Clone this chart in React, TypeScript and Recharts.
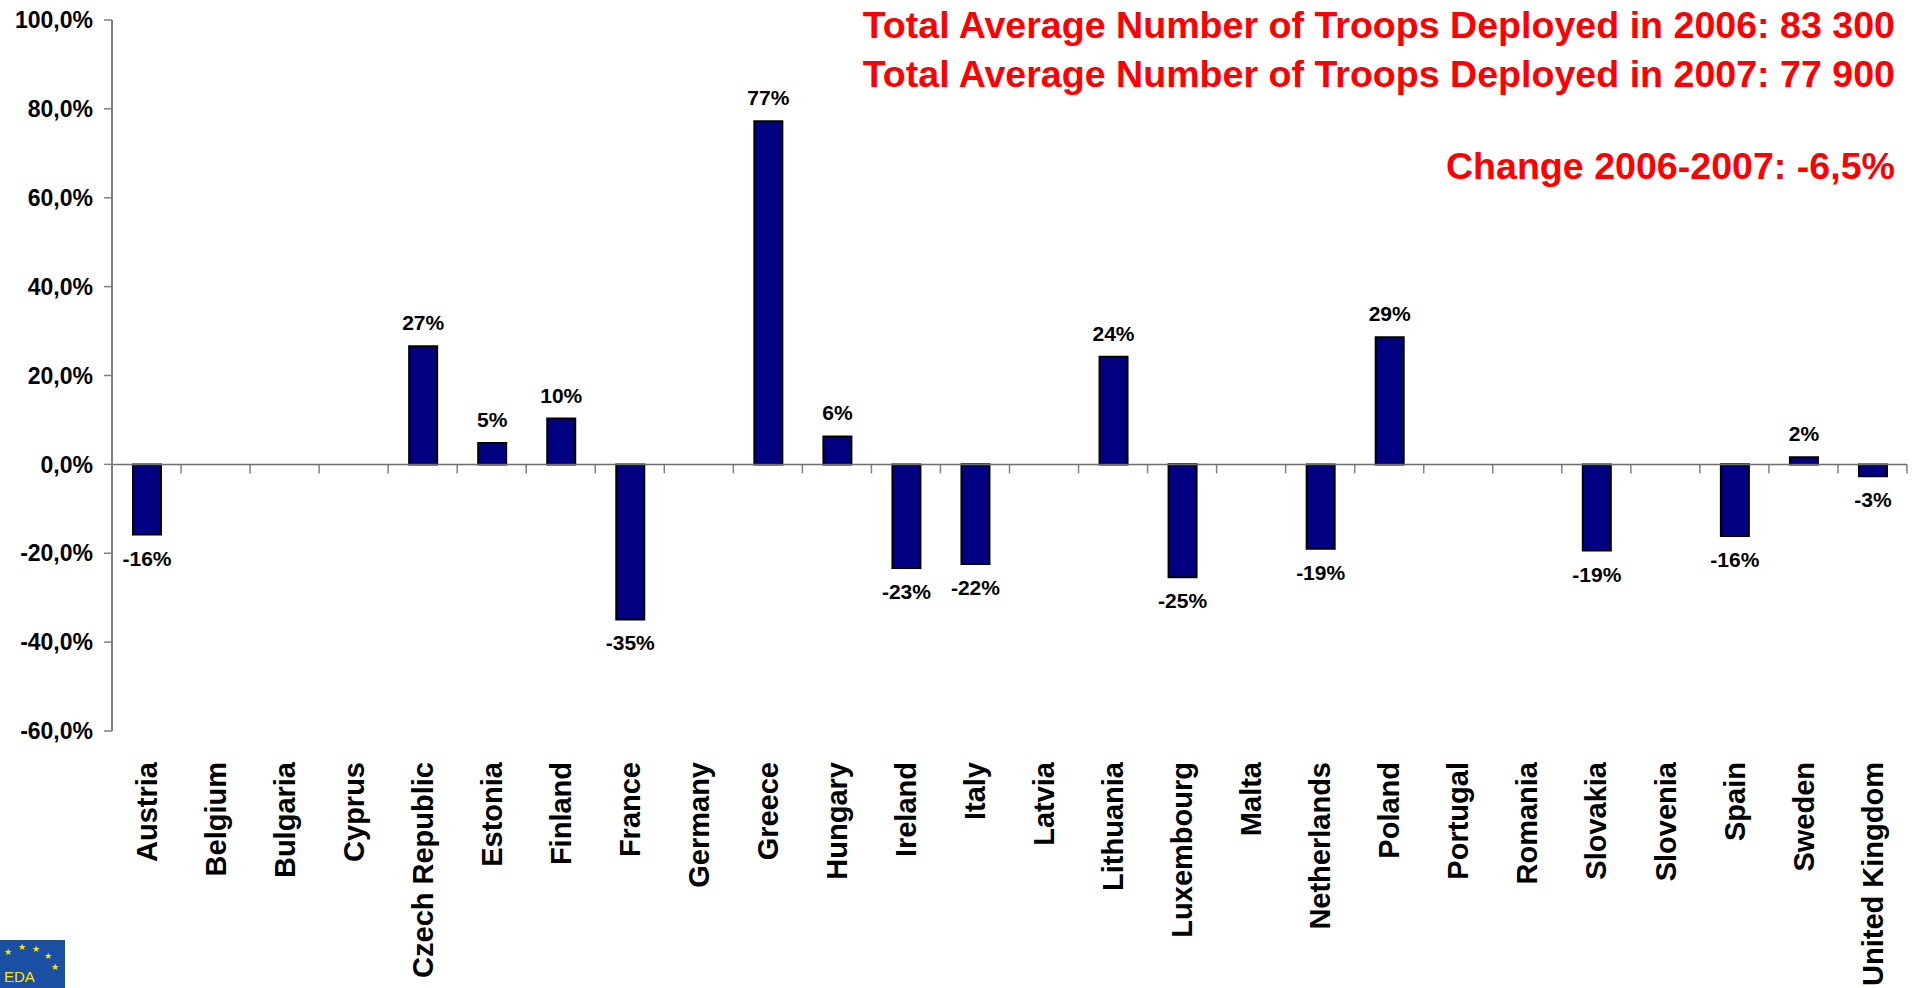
import { Bar, BarChart, LabelList, ReferenceLine, XAxis, YAxis } from "recharts";

const countries = [
  "Austria",
  "Belgium",
  "Bulgaria",
  "Cyprus",
  "Czech Republic",
  "Estonia",
  "Finland",
  "France",
  "Germany",
  "Greece",
  "Hungary",
  "Ireland",
  "Italy",
  "Latvia",
  "Lithuania",
  "Luxembourg",
  "Malta",
  "Netherlands",
  "Poland",
  "Portugal",
  "Romania",
  "Slovakia",
  "Slovenia",
  "Spain",
  "Sweden",
  "United Kingdom",
];

// change 2006-2007 in %, null = no bar
const changePct = [
  -15.8, null, null, null, 26.6, 4.8, 10.3, -34.9, null, 77.2, 6.3, -23.3, -22.4,
  null, 24.2, -25.4, null, -19.0, 28.6, null, null, -19.4, null, -16.1, 1.6, -2.7,
];

const yTicks = [-60, -40, -20, 0, 20, 40, 60, 80, 100];

const titleLines = [
  "Total Average Number of Troops Deployed in 2006: 83 300",
  "Total Average Number of Troops Deployed in 2007: 77 900",
  "Change 2006-2007: -6,5%",
];

const FONT = "'Liberation Sans', Arial, sans-serif";
const AXIS_GRAY = "#808080";

const data = countries.map((name, i) => ({ name, change: changePct[i], zero: 0 }));

const pctTick = (v: number) => `${v.toFixed(1).replace(".", ",")}%`;

function CountryTick(props: any) {
  const { x, y, payload } = props;
  return (
    <text
      x={x}
      y={y}
      transform={`rotate(-90, ${x}, ${y})`}
      textAnchor="end"
      dy="0.35em"
      fontSize={29}
      fontWeight="bold"
      fill="#000"
    >
      {payload.value}
    </text>
  );
}

// full-band bars of value 0: used to draw the category boundary ticks on the zero line
function BoundaryTick(props: any) {
  const { x, y, width, index } = props;
  const last = index === countries.length - 1;
  return (
    <g>
      <line x1={x} x2={x} y1={y} y2={y + 9} stroke={AXIS_GRAY} strokeWidth={1.5} />
      {last && (
        <line x1={x + width} x2={x + width} y1={y} y2={y + 9} stroke={AXIS_GRAY} strokeWidth={1.5} />
      )}
    </g>
  );
}

function ValueLabel(props: any) {
  const vb = props.viewBox ?? props;
  const { x, y, width, height } = vb;
  const value = props.value;
  if (value === null || value === undefined) return null;
  const top = Math.min(y, y + height);
  const bottom = Math.max(y, y + height);
  const ty = value >= 0 ? top - 16 : bottom + 31;
  return (
    <text x={x + width / 2} y={ty} textAnchor="middle" fontSize={21} fontWeight="bold" fill="#000">
      {`${Math.round(value)}%`}
    </text>
  );
}

export default function App() {
  return (
    <div style={{ position: "relative", width: 1914, height: 988, fontFamily: FONT, background: "#fff" }}>
      <style>{`body { margin: 0; }`}</style>
      <BarChart
        width={1914}
        height={988}
        data={data}
        margin={{ top: 20, right: 7, bottom: 0, left: 0 }}
        barCategoryGap={0}
      >
        <XAxis
          dataKey="name"
          interval={0}
          axisLine={false}
          tickLine={false}
          tickSize={0}
          tickMargin={31}
          height={257}
          tick={<CountryTick />}
        />
        <XAxis xAxisId="grid" dataKey="name" hide />
        <YAxis
          width={112}
          domain={[-60, 100]}
          ticks={yTicks}
          interval={0}
          tickFormatter={pctTick}
          axisLine={{ stroke: AXIS_GRAY, strokeWidth: 2 }}
          tickLine={{ stroke: AXIS_GRAY, strokeWidth: 1.5 }}
          tickSize={8}
          tickMargin={11}
          tick={{ fontSize: 23, fontWeight: "bold", fill: "#000" }}
        />
        <ReferenceLine y={0} stroke="#6e6e6e" strokeWidth={1.5} />
        <Bar
          xAxisId="grid"
          dataKey="zero"
          shape={<BoundaryTick />}
          isAnimationActive={false}
        />
        <Bar
          dataKey="change"
          barSize={28}
          fill="#000080"
          stroke="#000"
          strokeWidth={2}
          isAnimationActive={false}
        >
          <LabelList dataKey="change" content={<ValueLabel />} />
        </Bar>
      </BarChart>

      <svg
        width={1914}
        height={988}
        style={{ position: "absolute", left: 0, top: 0, pointerEvents: "none" }}
      >
        {titleLines.map((line, i) => (
          <text
            key={line}
            x={1895}
            y={[38, 87, 179][i]}
            textAnchor="end"
            fontSize={37.6}
            fontWeight="bold"
            fill="#ff0000"
            fontFamily={FONT}
          >
            {line}
          </text>
        ))}
        <rect x={0} y={940} width={65} height={48} fill="#1b4fa3" />
        {[
          [8, 955],
          [22, 950],
          [36, 952],
          [48, 959],
          [55, 970],
        ].map(([sx, sy], i) => (
          <text key={i} x={sx} y={sy} fontSize={9} fill="#ffe600" textAnchor="middle">
            ★
          </text>
        ))}
        <text x={4} y={982} fontSize={15} fill="#ffe600" fontFamily={FONT}>
          EDA
        </text>
      </svg>
    </div>
  );
}
